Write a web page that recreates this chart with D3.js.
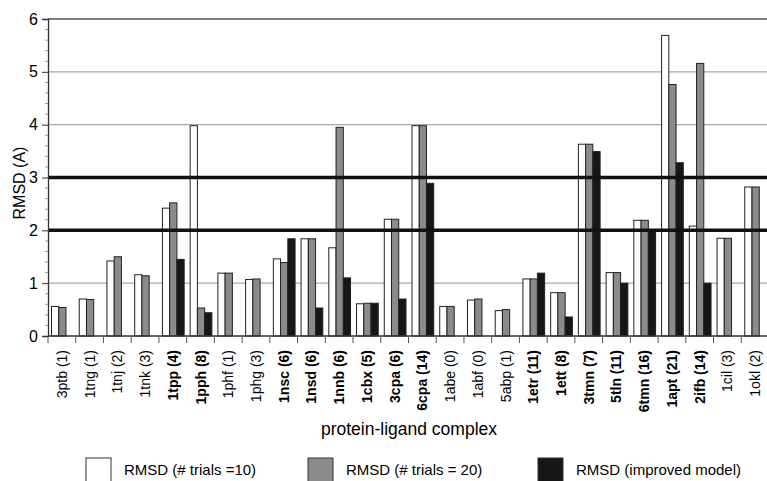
<!DOCTYPE html>
<html>
<head>
<meta charset="utf-8">
<script src="https://cdn.jsdelivr.net/npm/d3@7"></script>
<style>
  body { margin: 0; background: #fff; }
  svg { display: block; font-family: "Liberation Sans", Arial, Helvetica, sans-serif; }
</style>
</head>
<body>
<div id="chart"></div>
<script>
// complexes on the x axis, with the number in brackets
const complexes = ["3ptb (1)", "1tng (1)", "1tnj (2)", "1tnk (3)", "1tpp (4)", "1pph (8)", "1phf (1)",
  "1phg (3)", "1nsc (6)", "1nsd (6)", "1nnb (6)", "1cbx (5)", "3cpa (6)", "6cpa (14)", "1abe (0)",
  "1abf (0)", "5abp (1)", "1etr (11)", "1ett (8)", "3tmn (7)", "5tln (11)", "6tmn (16)", "1apt (21)",
  "2ifb (14)", "1cil (3)", "1okl (2)"];
// labels printed in bold
const boldLabels = ["1tpp (4)", "1pph (8)", "1nsc (6)", "1nsd (6)", "1nnb (6)", "1cbx (5)", "3cpa (6)",
  "6cpa (14)", "1etr (11)", "1ett (8)", "3tmn (7)", "5tln (11)", "6tmn (16)", "1apt (21)", "2ifb (14)"];

// RMSD values, null = no bar
const trials10 = [0.56, 0.70, 1.42, 1.16, 2.42, 3.98, 1.19, 1.07, 1.46, 1.84, 1.67, 0.61, 2.21, 3.98,
  0.56, 0.68, 0.48, 1.08, 0.82, 3.63, 1.20, 2.19, 5.69, 2.08, 1.85, 2.82];
const trials20 = [0.54, 0.69, 1.50, 1.14, 2.52, 0.53, 1.19, 1.08, 1.39, 1.84, 3.95, 0.62, 2.21, 3.98,
  0.56, 0.70, 0.50, 1.08, 0.82, 3.63, 1.20, 2.19, 4.76, 5.16, 1.85, 2.82];
const improved = [null, null, null, null, 1.45, 0.44, null, null, 1.84, 0.53, 1.10, 0.62, 0.70, 2.89,
  null, null, null, 1.19, 0.36, 3.49, 1.00, 1.99, 3.28, 1.00, null, null];

const seriesNames = ["RMSD (# trials =10)", "RMSD (# trials = 20)", "RMSD (improved model)"];
const seriesKeys = ["t10", "t20", "imp"];
const yTicks = [0, 1, 2, 3, 4, 5, 6];
const gridValues = [1, 4, 5];
const thresholds = [2, 3];

const width = 767, height = 481,
    margin = ({top: 19, right: -2, bottom: 145, left: 48});

const colors = d3.scaleOrdinal().domain(seriesKeys).range(["#ffffff", "#8a8c8c", "#161616"]);

let data = complexes.map((c, i) => ({name: c, t10: trials10[i], t20: trials20[i], imp: improved[i]}));

let svg = d3.select("#chart")
    .append("svg")
    .attr("width", width)
    .attr("height", height)
    .attr("viewBox", [0, 0, width, height]);

const x = d3.scaleBand()
    .domain(complexes)
    .range([margin.left, width - margin.right]);

const xInner = d3.scaleBand()   // the three bars inside one complex
    .domain(seriesKeys)
    .range([3.5, x.bandwidth() - 2.5]);

const y = d3.scaleLinear()
    .domain([0, 6])
    .range([height - margin.bottom, margin.top]);

// light grid lines behind the bars
svg.append("g")
    .selectAll("line")
    .data(gridValues)
    .join("line")
    .attr("x1", margin.left)
    .attr("x2", width)
    .attr("y1", d => y(d))
    .attr("y2", d => y(d))
    .attr("stroke", "#a8a8a8")
    .attr("stroke-width", 1.3);

// top border at 6
svg.append("line")
    .attr("x1", margin.left).attr("x2", width)
    .attr("y1", y(6)).attr("y2", y(6))
    .attr("stroke", "#555").attr("stroke-width", 1.3);

// bars
let group = svg.append("g")
    .selectAll("g")
    .data(data)
    .join("g")
    .attr("transform", d => `translate(${x(d.name)},0)`);

group.selectAll("rect")
    .data(d => seriesKeys.map(k => ({key: k, value: d[k]})).filter(e => e.value != null))
    .join("rect")
    .attr("x", d => xInner(d.key))
    .attr("width", xInner.bandwidth())
    .attr("y", d => y(d.value))
    .attr("height", d => y(0) - y(d.value))
    .attr("fill", d => colors(d.key))
    .attr("stroke", "#222")
    .attr("stroke-width", 1);

// thick threshold lines on top
svg.append("g")
    .selectAll("line")
    .data(thresholds)
    .join("line")
    .attr("x1", margin.left)
    .attr("x2", width)
    .attr("y1", d => y(d))
    .attr("y2", d => y(d))
    .attr("stroke", "#111")
    .attr("stroke-width", 3.5);

// y axis
const yAxis = g => g
    .attr("transform", `translate(${margin.left},0)`)
    .call(d3.axisLeft(y).tickValues(yTicks).tickFormat(d3.format("d")).tickSize(6).tickPadding(4))
    .call(g => g.select(".domain").attr("stroke", "#333").attr("stroke-width", 1.3))
    .call(g => g.selectAll(".tick line").attr("stroke", "#333"))
    .call(g => g.selectAll(".tick text").attr("font-size", 16).attr("fill", "#000")
        .attr("font-family", "\"Liberation Sans\", Arial, sans-serif"));

svg.append("g").call(yAxis);

// minor ticks every 0.2
svg.append("g")
    .selectAll("line")
    .data(d3.range(0, 6.01, 0.2).filter(v => Math.abs(v - Math.round(v)) > 0.01))
    .join("line")
    .attr("x1", margin.left - 3)
    .attr("x2", margin.left)
    .attr("y1", d => y(d))
    .attr("y2", d => y(d))
    .attr("stroke", "#999");

// x axis: ticks between the complexes
svg.append("line")
    .attr("x1", margin.left).attr("x2", width)
    .attr("y1", y(0)).attr("y2", y(0))
    .attr("stroke", "#333").attr("stroke-width", 1.3);

svg.append("g")
    .selectAll("line")
    .data(complexes)
    .join("line")
    .attr("x1", d => x(d))
    .attr("x2", d => x(d))
    .attr("y1", y(0))
    .attr("y2", y(0) + 7)
    .attr("stroke", "#555");

svg.append("g")
    .selectAll("text")
    .data(complexes)
    .join("text")
    .text(d => d)
    .attr("transform", d => `translate(${x(d) + x.bandwidth() / 2 + 5},${y(0) + 14}) rotate(-90)`)
    .attr("text-anchor", "end")
    .attr("font-size", 14)
    .attr("font-weight", d => boldLabels.includes(d) ? "bold" : "normal")
    .attr("fill", "#000");

// axis titles
svg.append("text")
    .text("protein-ligand complex")
    .attr("x", 409)
    .attr("y", 435)
    .attr("text-anchor", "middle")
    .attr("font-size", 17.5)
    .attr("fill", "#000");

svg.append("text")
    .text("RMSD (A)")
    .attr("transform", "translate(25,183) rotate(-90)")
    .attr("text-anchor", "middle")
    .attr("font-size", 16)
    .attr("fill", "#000");

// legend
const legendX = [86, 308, 538];
let legend = svg.append("g")
    .selectAll("g")
    .data(seriesKeys)
    .join("g")
    .attr("transform", (d, i) => `translate(${legendX[i]},458)`);

legend.append("rect")
    .attr("width", 25)
    .attr("height", 26)
    .attr("fill", d => colors(d))
    .attr("stroke", "#333")
    .attr("stroke-width", 1);

legend.append("text")
    .text((d, i) => seriesNames[i])
    .attr("x", 38)
    .attr("y", 17)
    .attr("font-size", 15)
    .attr("fill", "#000");
</script>
</body>
</html>
